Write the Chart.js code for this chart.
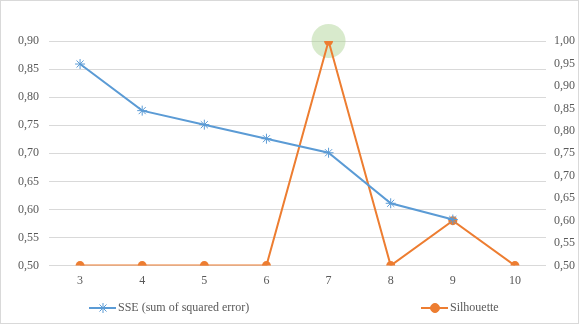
<!DOCTYPE html>
<html>
<head>
<meta charset="utf-8">
<script src="https://cdn.jsdelivr.net/npm/chart.js@4.4.1/dist/chart.umd.min.js"></script>
<style>
  html, body { margin: 0; padding: 0; background: #fff; }
  #wrap { width: 579px; height: 324px; }
</style>
</head>
<body>
<div id="wrap"><canvas id="chart" width="579" height="324"></canvas></div>
<script>
// values
const clusters = ['3', '4', '5', '6', '7', '8', '9', '10'];
const sse = [0.859, 0.776, 0.751, 0.726, 0.701, 0.611, 0.582, null];
const silhouette = [0.50, 0.50, 0.50, 0.50, 1.00, 0.50, 0.60, 0.50];
const sseLabel = 'SSE (sum of squared error)';
const silLabel = 'Silhouette';

const blue = '#5b9bd5';
const orange = '#ed7d31';
const tickColor = '#595959';
const fontFamily = '"Liberation Serif", "Times New Roman", serif';

function comma(v) {
    return v.toFixed(2).replace('.', ',');
}

// frame around the whole chart, like the office chart border
const framePlugin = {
    id: 'frame',
    beforeDraw(chart) {
        const c = chart.ctx;
        c.save();
        c.fillStyle = '#fff';
        c.fillRect(0, 0, chart.width, chart.height);
        c.strokeStyle = '#d9d9d9';
        c.lineWidth = 1;
        c.strokeRect(0.5, 0.5, chart.width - 1, chart.height - 1);
        c.restore();
    }
};

// soft green halo on the best silhouette value
const haloPlugin = {
    id: 'halo',
    beforeDatasetsDraw(chart) {
        const best = silhouette.indexOf(Math.max(...silhouette));
        const pt = chart.getDatasetMeta(1).data[best];
        if (!pt) return;
        const c = chart.ctx;
        c.save();
        c.fillStyle = 'rgba(169, 209, 142, 0.45)';
        c.beginPath();
        c.arc(pt.x, pt.y, 17, 0, Math.PI * 2);
        c.fill();
        c.restore();
    }
};

// legend drawn like the spreadsheet one: short line with the marker on it
const legendPlugin = {
    id: 'excelLegend',
    afterDraw(chart) {
        const c = chart.ctx;
        const items = [
            {ds: chart.data.datasets[0], x: 89},
            {ds: chart.data.datasets[1], x: 421}
        ];
        const y = 308;
        c.save();
        items.forEach(item => {
            c.strokeStyle = item.ds.borderColor;
            c.fillStyle = item.ds.borderColor;
            c.lineWidth = 2;
            c.beginPath();
            c.moveTo(item.x, y);
            c.lineTo(item.x + 27, y);
            c.stroke();
            c.lineWidth = 1;
            Chart.helpers.drawPoint(c, {
                pointStyle: item.ds.pointStyle,
                radius: item.ds.pointRadius,
                borderWidth: 1
            }, item.x + 14, y);
            c.fillStyle = tickColor;
            c.font = '12px ' + fontFamily;
            c.textBaseline = 'middle';
            c.fillText(item.ds.label, item.x + 29, y);
        });
        c.restore();
    }
};

const ctx = document.getElementById('chart');

new Chart(ctx, {
    type: 'line',
    data: {
        labels: clusters,
        datasets: [{
            label: sseLabel,
            data: sse,
            yAxisID: 'y',
            borderColor: blue,
            backgroundColor: blue,
            borderWidth: 2,
            pointStyle: 'star',
            pointRadius: 5,
            pointBorderWidth: 1,
            pointBorderColor: blue,
            tension: 0
        }, {
            label: silLabel,
            data: silhouette,
            yAxisID: 'y1',
            borderColor: orange,
            backgroundColor: orange,
            borderWidth: 2,
            pointStyle: 'circle',
            pointRadius: 4.5,
            pointBorderWidth: 0,
            tension: 0
        }]
    },
    options: {
        responsive: false,
        animation: false,
        layout: {padding: {top: 41, bottom: 28, left: 8, right: -4}},
        plugins: {
            legend: {display: false},
            tooltip: {enabled: false}
        },
        scales: {
            x: {
                offset: true,
                grid: {display: false, drawTicks: false},
                border: {display: false},
                ticks: {color: tickColor, font: {family: fontFamily, size: 12}, padding: 8}
            },
            y: {
                position: 'left',
                min: 0.5,
                max: 0.9,
                grid: {color: '#d9d9d9', drawTicks: false},
                border: {display: false},
                ticks: {
                    stepSize: 0.05,
                    color: tickColor,
                    font: {family: fontFamily, size: 12},
                    padding: 10,
                    callback: v => comma(v)
                }
            },
            y1: {
                position: 'right',
                min: 0.5,
                max: 1.0,
                grid: {display: false, drawTicks: false},
                border: {display: false},
                ticks: {
                    stepSize: 0.05,
                    color: tickColor,
                    font: {family: fontFamily, size: 12},
                    padding: 8,
                    callback: v => comma(v)
                }
            }
        }
    },
    plugins: [framePlugin, haloPlugin, legendPlugin]
});
</script>
</body>
</html>
